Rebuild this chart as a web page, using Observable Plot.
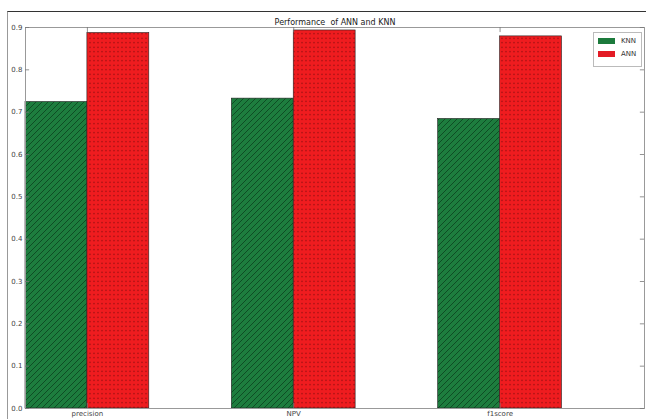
<!DOCTYPE html>
<html>
<head>
<meta charset="utf-8">
<script src="https://cdn.jsdelivr.net/npm/d3@7"></script>
<script src="https://cdn.jsdelivr.net/npm/@observablehq/plot@0.6"></script>
<style>
  body { margin: 0; background: #fff; }
  #wrap { position: relative; width: 646px; height: 419px; overflow: hidden; font-family: "DejaVu Sans", sans-serif; }
  #frame { position: absolute; left: 7px; top: 11px; width: 700px; height: 500px; border-top: 1px solid #333; border-left: 1px solid #999; pointer-events: none; }
  #legend { position: absolute; left: 593px; top: 32px; width: 47px; height: 33px; border: 1px solid #bbb; background: #fff; font-size: 7px; color: #333; }
  .row { position: absolute; left: 4px; display: flex; align-items: center; }
  .sw { width: 17px; height: 6px; margin-right: 6px; }
</style>
</head>
<body>
<div id="wrap">
  <div id="chart"></div>
  <div id="frame"></div>
  <div id="legend"></div>
</div>
<script>
const categories = ["precision", "NPV", "f1score"];
const knnValues = [0.724, 0.732, 0.684];
const annValues = [0.887, 0.893, 0.879];
const seriesNames = ["KNN", "ANN"];
const yTicks = [0, 0.1, 0.2, 0.3, 0.4, 0.5, 0.6, 0.7, 0.8, 0.9];
const title = "Performance  of ANN and KNN";

const barWidth = 0.3;
const rows = [];
categories.forEach((c, i) => {
  rows.push({cat: c, series: "KNN", x1: i, x2: i + barWidth, value: knnValues[i]});
  rows.push({cat: c, series: "ANN", x1: i + barWidth, x2: i + 2 * barWidth, value: annValues[i]});
});
const tickPos = categories.map((c, i) => i + barWidth);

const plot = Plot.plot({
  width: 646,
  height: 419,
  marginLeft: 25,
  marginRight: 2,
  marginTop: 27,
  marginBottom: 11,
  style: {fontFamily: "DejaVu Sans, sans-serif", fontSize: "7px", color: "#444", background: "transparent"},
  x: {domain: [0, 3], axis: null},
  y: {domain: [0, 0.9], axis: null},
  marks: [
    Plot.rectY(rows, {
      x1: "x1", x2: "x2", y1: 0, y2: "value",
      fill: d => d.series === "KNN" ? "url(#hatchKNN)" : "url(#dotsANN)",
      stroke: "#222", strokeWidth: 0.6
    }),
    Plot.frame({stroke: "#999", strokeWidth: 1}),
    Plot.ruleY(yTicks, {y: d => d, x1: 0, x2: 0.02, stroke: "#777", strokeWidth: 0.8}),
    Plot.ruleY(yTicks, {y: d => d, x1: 2.98, x2: 3, stroke: "#777", strokeWidth: 0.8}),
    Plot.text(yTicks, {y: d => d, frameAnchor: "left", dx: -3, textAnchor: "end", text: d => d.toFixed(1), fill: "#444"}),
    Plot.ruleX(tickPos, {x: d => d, y1: 0, y2: 0.012, stroke: "#777", strokeWidth: 0.8}),
    Plot.ruleX(tickPos, {x: d => d, y1: 0.888, y2: 0.9, stroke: "#777", strokeWidth: 0.8}),
    Plot.text(categories, {x: (d, i) => tickPos[i], frameAnchor: "bottom", dy: 7, text: d => d, fill: "#444"}),
    Plot.text([title], {frameAnchor: "top", dy: -8, text: d => d, fill: "#222", fontSize: 8})
  ]
});

const ns = "http://www.w3.org/2000/svg";
const defs = document.createElementNS(ns, "defs");
defs.innerHTML = `
  <pattern id="hatchKNN" patternUnits="userSpaceOnUse" width="6" height="6">
    <rect width="6" height="6" fill="#1d7d3e"/>
    <path d="M0,6 L6,0 M-1,1 L1,-1 M5,7 L7,5" stroke="#0e4d24" stroke-width="1"/>
  </pattern>
  <pattern id="dotsANN" patternUnits="userSpaceOnUse" width="4" height="4.5">
    <rect width="4" height="4.5" fill="#ef1c1f"/>
    <circle cx="2" cy="2.2" r="0.65" fill="#7a0c0c"/>
  </pattern>`;
plot.insertBefore(defs, plot.firstChild);
document.getElementById("chart").appendChild(plot);

const legend = document.getElementById("legend");
const swatchColors = {KNN: "#1c7a3c", ANN: "#e31b25"};
seriesNames.forEach((s, i) => {
  const r = document.createElement("div");
  r.className = "row";
  r.style.top = (4 + i * 13) + "px";
  r.innerHTML = `<div class="sw" style="background:${swatchColors[s]}"></div><span>${s}</span>`;
  legend.appendChild(r);
});
</script>
</body>
</html>
